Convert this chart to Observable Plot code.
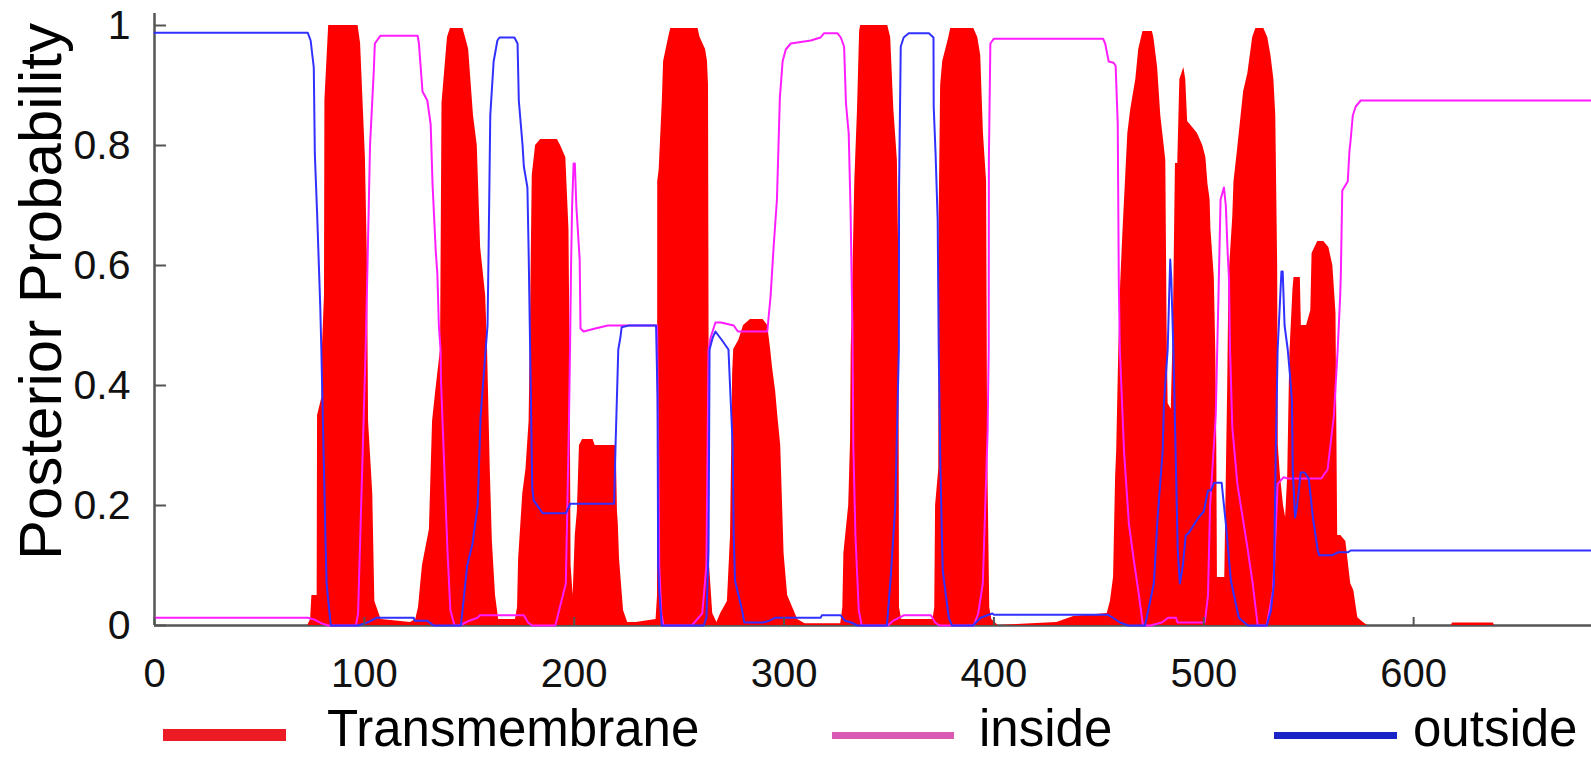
<!DOCTYPE html>
<html><head><meta charset="utf-8">
<script src="https://cdn.jsdelivr.net/npm/d3@7"></script>
<script src="https://cdn.jsdelivr.net/npm/@observablehq/plot@0.6"></script>
<style>
html,body{margin:0;padding:0;background:#fff;overflow:hidden;width:1591px;height:757px;}
#chart{width:1623px;}
#chart svg{display:block;}
#legend{position:relative;height:47px;width:1591px;font-family:"Liberation Sans",Arial,sans-serif;}
#legend .sw{position:absolute;}
#legend .lb{position:absolute;top:-7px;font-size:51px;line-height:51px;height:51px;color:#000;white-space:nowrap;}
</style>
</head><body>
<div id="chart"></div>
<div id="legend"></div>
<script>
const xTicks = [0, 100, 200, 300, 400, 500, 600, 700];
const yTicks = [0, 0.2, 0.4, 0.6, 0.8, 1];
const yLabel = "Posterior Probability";
const seriesNames = ["Transmembrane", "inside", "outside"];

// [residue position, posterior probability]
const transmembrane = [[0,0],[73,0],[74.4,0.01],[75,0.05],[77.5,0.05],[77.7,0.35],[79.8,0.38],[80,0.46],[81,0.55],[81.2,0.875],[83,1.0],[97,1.0],[98.2,0.97],[100.5,0.78],[101.5,0.6],[102,0.34],[104,0.22],[105,0.04],[108,0.01],[122,0.005],[124.5,0.01],[125.8,0.03],[127.7,0.1],[131,0.16],[132.5,0.34],[134,0.39],[136.3,0.46],[137,0.87],[139.6,0.98],[141,0.995],[147,0.995],[148.2,0.98],[149.7,0.96],[152,0.85],[153.8,0.8],[155.4,0.63],[157.8,0.55],[158.7,0.46],[160,0.26],[161,0.14],[162.5,0.05],[164,0.01],[172,0.01],[173,0.03],[173.5,0.11],[175.5,0.22],[177,0.26],[178.5,0.34],[179,0.46],[180,0.75],[181.6,0.8],[184,0.81],[192,0.81],[193.5,0.8],[196,0.78],[197.5,0.66],[198,0.46],[198.5,0.1],[199.5,0.05],[200.5,0.15],[201.5,0.19],[202.5,0.3],[204,0.31],[209,0.31],[210,0.3],[220,0.3],[220.6,0.19],[221,0.17],[221.6,0.11],[223.5,0.025],[225.5,0.005],[229.5,0.005],[239,0.01],[239.7,0.05],[239.8,0.74],[240.5,0.76],[242,0.875],[242.6,0.94],[245,0.98],[246,0.995],[259,0.995],[260,0.98],[262.6,0.96],[263.5,0.94],[264,0.9],[264.5,0.1],[266,0.02],[268,0.005],[269.8,0.02],[273,0.04],[274.5,0.15],[275.5,0.42],[276,0.46],[278.4,0.475],[280.7,0.5],[284,0.51],[290,0.51],[292.2,0.5],[293.6,0.46],[294.5,0.43],[296,0.39],[297,0.35],[298.4,0.3],[300,0.12],[301.7,0.05],[306.5,0.01],[310,0.003],[327,0.003],[328,0.03],[328.5,0.12],[330.8,0.2],[331.7,0.31],[332,0.46],[332.6,0.55],[333.7,0.74],[335,0.86],[336,0.99],[336.5,1.0],[349.4,1.0],[350.8,0.98],[352.3,0.86],[354,0.775],[354.7,0.6],[355,0.03],[356,0.01],[371,0.01],[371.8,0.03],[372.2,0.2],[373.7,0.26],[373.9,0.68],[374.6,0.9],[375.6,0.94],[378.5,0.98],[379.4,0.995],[390.4,0.995],[392.3,0.98],[393.7,0.95],[395,0.82],[396.5,0.74],[397,0.3],[398,0.03],[399,0.01],[402,0],[430,0.005],[438,0.015],[454,0.02],[455.5,0.04],[457,0.08],[458,0.25],[458.5,0.29],[459.5,0.46],[460.4,0.57],[461.4,0.65],[463.8,0.82],[465.2,0.86],[467.6,0.91],[469,0.96],[471,0.99],[475.5,0.99],[476.2,0.98],[478,0.93],[479.5,0.85],[481.9,0.775],[482.5,0.5],[483,0.37],[484.5,0.36],[485.5,0.5],[486.5,0.77],[487.6,0.77],[488.6,0.91],[490.5,0.93],[491.4,0.91],[492.3,0.84],[494.7,0.83],[497,0.82],[499.5,0.8],[501,0.78],[502,0.735],[503,0.71],[503.4,0.66],[505,0.58],[505.7,0.46],[506.2,0.3],[506.5,0.08],[510,0.08],[511.4,0.4],[512,0.58],[513.8,0.68],[514.4,0.74],[516,0.79],[519,0.89],[521,0.92],[523.3,0.98],[524.8,0.995],[528.6,0.995],[530.5,0.98],[532,0.95],[533.4,0.91],[534.3,0.85],[535.2,0.6],[535.5,0.3],[536.5,0.25],[538,0.2],[539,0.18],[540,0.25],[541,0.45],[542.5,0.56],[543,0.58],[546,0.58],[546.5,0.5],[549,0.5],[551,0.525],[551.6,0.62],[554.3,0.64],[557.2,0.64],[559.6,0.63],[561.5,0.6],[563,0.52],[563.8,0.15],[565.3,0.15],[567.7,0.14],[570,0.07],[571.5,0.058],[573.4,0.013],[576,0.005],[578,0],[618,0],[618.5,0.004],[638,0.004],[638.5,0],[700,0]];

const inside = [[0,0.013],[73,0.013],[76,0.01],[80,0.003],[83,0],[96,0],[97,0.02],[100.6,0.46],[101.5,0.6],[102.7,0.8],[104.5,0.925],[105,0.97],[107.7,0.983],[125.4,0.983],[126,0.97],[127.7,0.89],[130,0.875],[131.6,0.835],[132.5,0.735],[134,0.625],[134.8,0.585],[135.5,0.5],[136.3,0.46],[136.5,0.41],[137.8,0.29],[139.6,0.125],[141,0.025],[143,0],[145.5,0],[150,0.008],[154,0.013],[155,0.017],[176,0.017],[178,0.005],[180,0],[191,0],[196,0.07],[197.5,0.34],[198,0.46],[198.5,0.6],[199,0.7],[199.7,0.77],[200.3,0.77],[201,0.7],[202.6,0.61],[203,0.495],[204.5,0.49],[210,0.495],[216,0.5],[239.5,0.5],[240,0.3],[240.5,0.1],[241.5,0.02],[242.5,0],[256,0],[261,0.02],[263,0.1],[264,0.46],[265,0.48],[267.3,0.505],[270,0.505],[276,0.5],[278,0.49],[292,0.49],[293.6,0.55],[295,0.63],[296.6,0.71],[298,0.88],[299.3,0.94],[300.8,0.96],[303.2,0.97],[312.7,0.975],[317.4,0.98],[319,0.987],[325.5,0.987],[327,0.98],[328.6,0.965],[329.5,0.87],[330.8,0.82],[331.7,0.69],[332.6,0.49],[333,0.3],[334,0.15],[335.6,0.025],[337,0],[349.4,0],[352,0.008],[355,0.013],[357,0.017],[370,0.017],[372,0.005],[374,0],[390.4,0],[392.5,0.02],[394.7,0.07],[397,0.325],[397.5,0.46],[397.6,0.78],[398.3,0.97],[400,0.978],[452,0.978],[453,0.97],[454.7,0.94],[457,0.938],[458,0.933],[459,0.835],[459.5,0.575],[460,0.46],[462,0.29],[464.3,0.17],[466.6,0.11],[469,0.053],[471,0],[474.5,0],[480,0.005],[483,0.013],[486.7,0.013],[487.5,0.005],[500.5,0.005],[502,0.05],[503,0.2],[505.7,0.35],[506.4,0.46],[507,0.55],[508,0.71],[509.6,0.73],[510.5,0.7],[511.4,0.62],[512,0.58],[512.5,0.46],[513.6,0.33],[516,0.236],[521,0.125],[523.3,0.07],[525.7,0],[530,0],[533,0.058],[535.2,0.236],[538,0.247],[540,0.245],[556,0.245],[559,0.26],[562,0.35],[563.8,0.46],[565,0.55],[565.3,0.585],[566,0.725],[568.6,0.74],[569.4,0.79],[570,0.81],[571,0.85],[572.4,0.865],[574.8,0.875],[700,0.875]];

const outside = [[0,0.988],[73,0.988],[74.4,0.975],[75.9,0.93],[76.4,0.786],[77.5,0.686],[79,0.53],[79.5,0.46],[81.5,0.14],[82,0.07],[84,0],[97,0],[101.5,0.005],[106,0.013],[123.5,0.013],[124,0.008],[130,0.008],[133,0],[146,0],[149,0.1],[151.5,0.136],[154,0.2],[155.4,0.35],[157.8,0.46],[158.7,0.5],[159.2,0.625],[160,0.85],[161.6,0.94],[163.4,0.975],[164.4,0.98],[171.5,0.98],[173,0.97],[173.6,0.875],[175.4,0.8],[176,0.765],[177.7,0.73],[178.3,0.62],[179,0.46],[180,0.23],[180.7,0.208],[183,0.197],[185,0.187],[196,0.187],[197.8,0.2],[198,0.203],[219,0.203],[219.7,0.3],[221,0.46],[222,0.48],[222.6,0.497],[226,0.5],[239,0.5],[239.7,0.38],[240,0.1],[240.5,0.058],[241.7,0],[261.7,0],[263,0.013],[264,0.125],[264.5,0.46],[266,0.48],[267.3,0.49],[270.5,0.475],[273.5,0.46],[275.5,0.3],[276,0.15],[276.6,0.075],[280,0.025],[281,0.005],[290,0.005],[293,0.008],[296,0.013],[317.5,0.013],[318,0.017],[327,0.017],[329,0.008],[332,0.005],[335,0],[349,0],[350.8,0.08],[353,0.2],[354.7,0.46],[354.8,0.73],[355.6,0.965],[357,0.98],[359.4,0.987],[369,0.987],[371.2,0.98],[371.3,0.865],[372.2,0.786],[373.2,0.675],[373.7,0.46],[374.5,0.26],[375.6,0.092],[377,0.053],[378.5,0.013],[380,0],[390,0],[393.7,0.013],[397.5,0.018],[399.3,0.02],[400,0.018],[454.2,0.018],[455.7,0.015],[458,0.01],[460,0.005],[464,0],[472,0],[476.2,0.07],[478,0.18],[478.7,0.213],[480.4,0.29],[481,0.37],[482.8,0.46],[483.5,0.55],[484,0.61],[484.5,0.58],[485,0.52],[485.5,0.46],[487.6,0.125],[488.6,0.07],[490,0.1],[491.4,0.15],[493,0.155],[497.5,0.18],[500,0.19],[502,0.225],[503.4,0.225],[505,0.238],[508.5,0.238],[510.5,0.17],[512.9,0.075],[516.7,0.013],[521,0],[530,0],[532,0.025],[533.4,0.07],[534.3,0.29],[535.2,0.46],[537,0.59],[537.6,0.59],[538.5,0.5],[540,0.46],[541,0.42],[542,0.375],[542.4,0.258],[543.5,0.18],[544.5,0.2],[546.2,0.255],[548,0.255],[550,0.245],[552,0.18],[554.3,0.125],[555,0.117],[561,0.117],[564,0.122],[568.6,0.122],[570,0.125],[700,0.125]];

const colors = {Transmembrane: "#ff0000", inside: "#ff1dff", outside: "#3131ff"};
const legendColors = {Transmembrane: "#ed1c24", inside: "#d95ab3", outside: "#1a24c6"};

const plot = Plot.plot({
  width: 1623,
  height: 710,
  marginLeft: 154,
  marginRight: 0,
  marginTop: 13,
  marginBottom: 85,
  x: {domain: [0, 700], axis: null},
  y: {domain: [0, 1.02], axis: null},
  style: {fontFamily: '"Liberation Sans", Arial, sans-serif', background: "transparent", maxWidth: "none", overflow: "visible"},
  marks: [
    Plot.ruleX([0], {stroke: "#555", strokeWidth: 2.5}),
    Plot.ruleY([0], {stroke: "#555", strokeWidth: 2.5}),
    Plot.areaY(transmembrane, {x: d => d[0], y: d => d[1], fill: colors.Transmembrane}),
    Plot.line(inside, {x: d => d[0], y: d => d[1], stroke: colors.inside, strokeWidth: 2}),
    Plot.line(outside, {x: d => d[0], y: d => d[1], stroke: colors.outside, strokeWidth: 2}),
    Plot.axisX(xTicks, {anchor: "bottom", tickSize: -8, tickPadding: 41, fontSize: 40, stroke: "#555", strokeWidth: 2, fill: "#111", tickFormat: d => String(d)}),
    Plot.axisY(yTicks, {anchor: "left", tickSize: -12, tickPadding: 36, fontSize: 41, stroke: "#555", strokeWidth: 2, fill: "#111", tickFormat: d => String(d)}),
    Plot.text([yLabel], {frameAnchor: "left", textAnchor: "middle", text: d => d, rotate: -90, dx: -113, dy: -28, fontSize: 60, fill: "#000"})
  ]
});
document.getElementById("chart").appendChild(plot);

const legend = document.getElementById("legend");
const swatches = [
  {name: seriesNames[0], left: 163, width: 123, h: 12, labelLeft: 327},
  {name: seriesNames[1], left: 832, width: 122, h: 7, labelLeft: 979},
  {name: seriesNames[2], left: 1274, width: 123, h: 7, labelLeft: 1413}
];
for (const s of swatches) {
  const sw = document.createElement("div");
  sw.className = "sw";
  sw.style.left = s.left + "px";
  sw.style.width = s.width + "px";
  sw.style.height = s.h + "px";
  sw.style.top = (25 - s.h / 2) + "px";
  sw.style.background = legendColors[s.name];
  legend.appendChild(sw);
  const lb = document.createElement("div");
  lb.className = "lb";
  lb.style.left = s.labelLeft + "px";
  lb.textContent = s.name;
  legend.appendChild(lb);
}
</script>
</body></html>
